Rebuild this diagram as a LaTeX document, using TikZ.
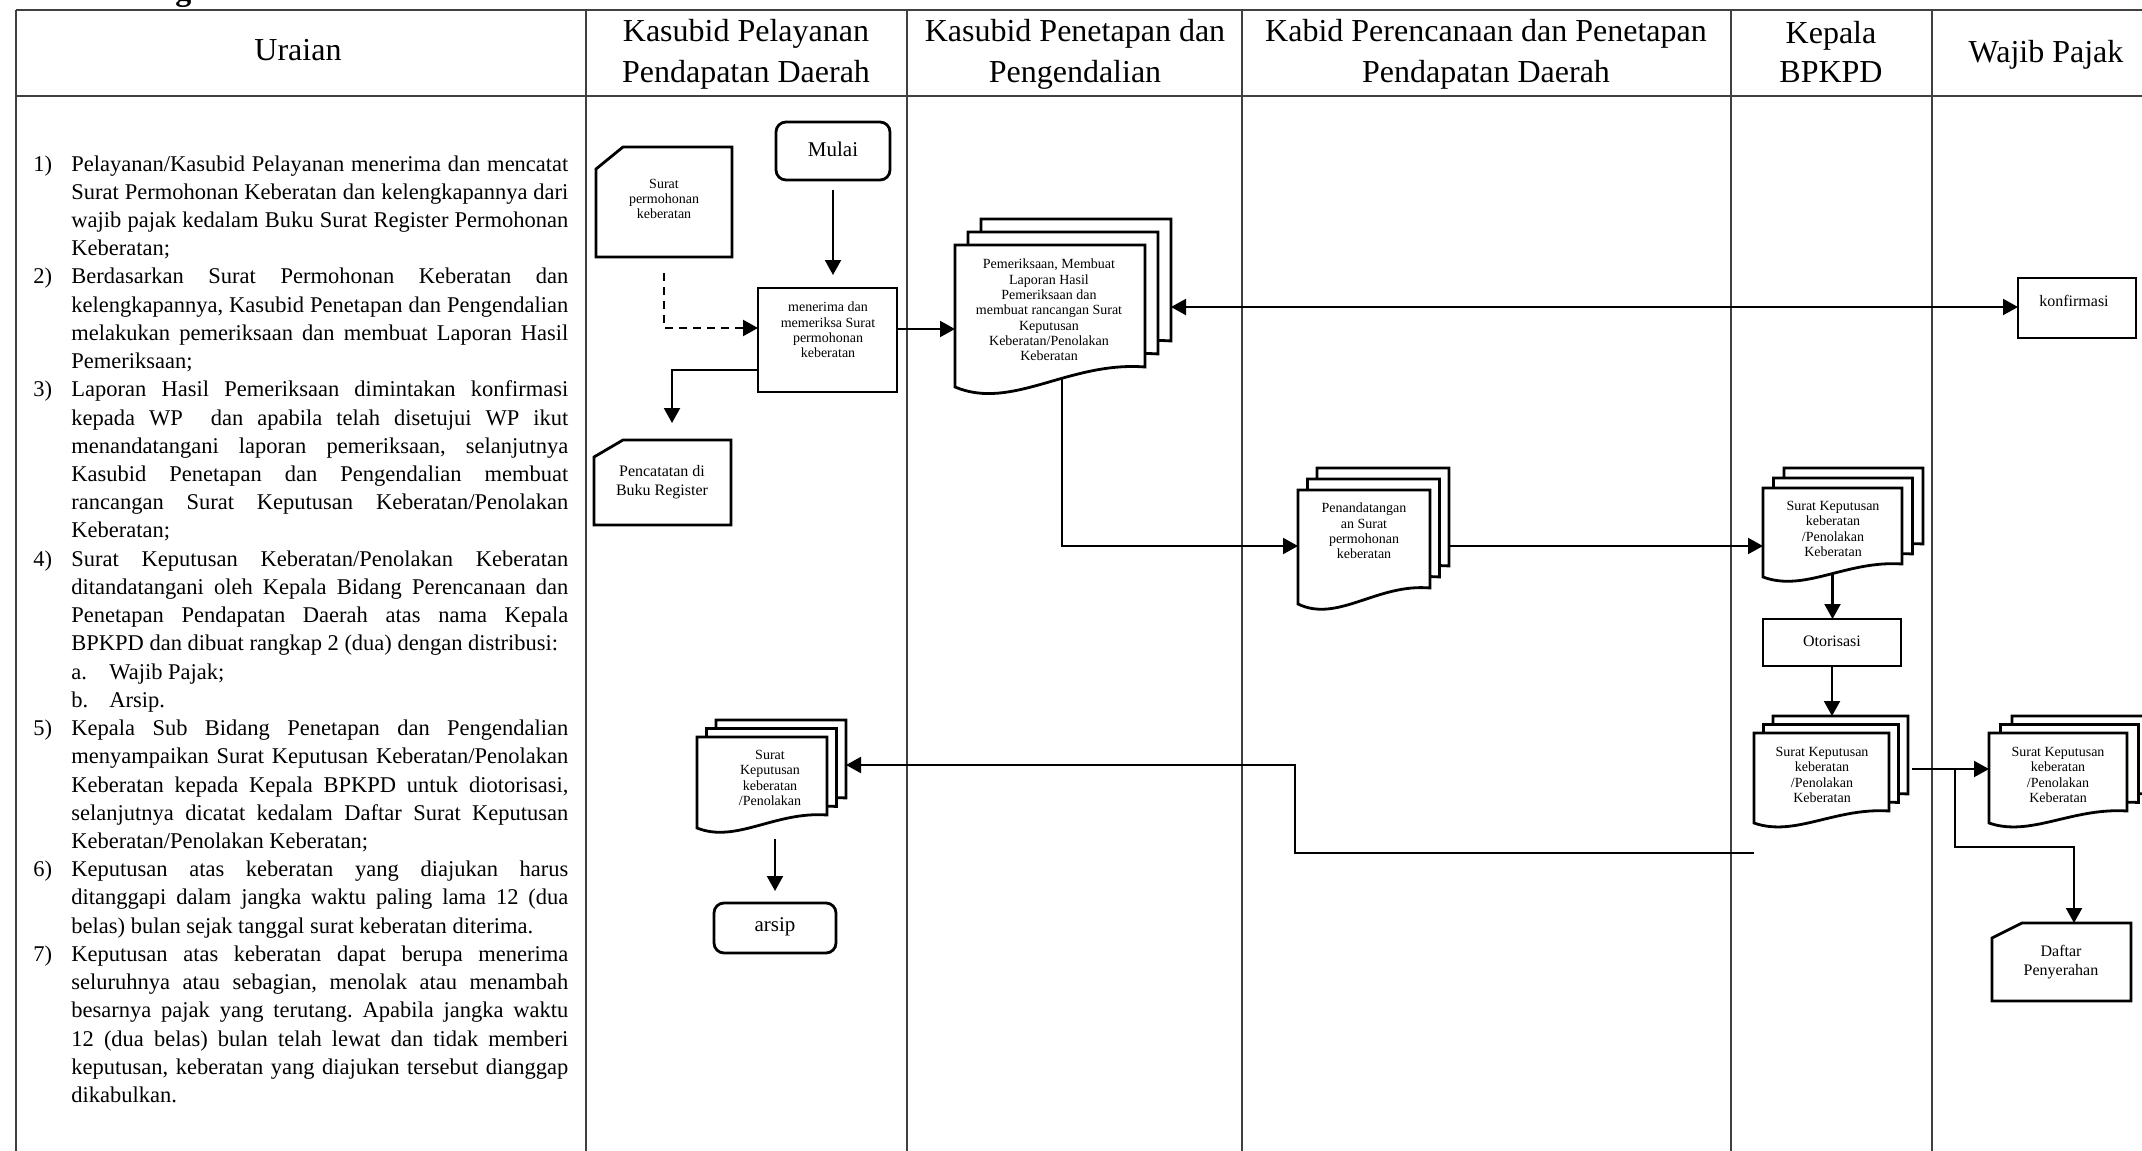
\documentclass[tikz,border=0pt]{standalone}
\usepackage{fontspec}
\setmainfont{Liberation Serif}
\usetikzlibrary{arrows.meta,fit,calc}

% named rectangular area between two corners (x1,y1) (x2,y2)
\newcommand\fcRegion[5]{%
  \path ({#2},{#3}) coordinate (#1-p) ({#4},{#5}) coordinate (#1-q);
  \node[area, fit=(#1-p)(#1-q)] (#1) {};}
% one document page with a wavy bottom edge: x1, top, x2, left height, rise
\newcommand\fcPage[5]{%
  \draw[shp] ({#1},{#2}) -- ({#3},{#2}) -- ({#3},{(#2)+(#4)-(#5)})
    .. controls ({(#1)+0.6*((#3)-(#1))},{(#2)+(#4)-1.3*(#5)})
       and ({(#1)+0.3*((#3)-(#1))},{(#2)+(#4)+1.2*(#5)}) .. ({#1},{(#2)+(#4)}) -- cycle;}
% stack of three pages: name, x1, top, x2, left height, rise, dx, dy
\newcommand\fcStack[8]{%
  \fcPage{(#2)+2*(#7)}{(#3)-2*(#8)}{(#4)+2*(#7)}{#5}{#6}
  \fcPage{(#2)+(#7)}{(#3)-(#8)}{(#4)+(#7)}{#5}{#6}
  \fcPage{#2}{#3}{#4}{#5}{#6}
  \fcRegion{#1}{#2}{#3}{#4}{(#3)+(#5)}
  \fcRegion{#1-b}{(#2)+2*(#7)}{(#3)-2*(#8)}{(#4)+2*(#7)}{(#3)-2*(#8)+(#5)}}
% card with the top left corner cut off: name, x1, y1, x2, y2, cut width, cut height
\newcommand\fcCard[7]{%
  \fcRegion{#1}{#2}{#3}{#4}{#5}
  \draw[shp] ({#2},{(#3)+(#7)}) -- ({(#2)+(#6)},{#3}) -- ({#4},{#3}) -- ({#4},{#5}) -- ({#2},{#5}) -- cycle;}
% lines of the description column
\newcommand\jline[2]{\node[body] (L#1) at (71,{171+28.23*(#1)}) {\makebox[248.5pt][s]{#2}};}
\newcommand\fline[2]{\node[body] (L#1) at (71,{171+28.23*(#1)}) {#2};}
\newcommand\numlab[2]{\node[body] (N#1) at (33,{171+28.23*(#1)}) {#2};}

\begin{document}
\frenchspacing
\begin{tikzpicture}[x=0.5pt,y=-0.5pt,
  lane/.style={draw=black!75, line width=0.6pt},
  shp/.style={draw=black, line width=1.4pt, fill=white, line join=miter},
  arr/.style={draw=black, line width=1.05pt, -{Triangle[length=7.5pt,width=8pt]}},
  biarr/.style={draw=black, line width=1.05pt, {Triangle[length=7.5pt,width=8pt]}-{Triangle[length=7.5pt,width=8pt]}},
  area/.style={inner sep=0pt, outer sep=0pt},
  tsmall/.style={font=\fontsize{7}{7.65}\selectfont, align=center, inner sep=0pt},
  tmid/.style={font=\fontsize{8}{9.5}\selectfont, align=center, inner sep=0pt},
  tbig/.style={font=\fontsize{10.5}{12}\selectfont, inner sep=0pt},
  head/.style={font=\fontsize{16}{21}\selectfont, inner sep=0pt, anchor=base},
  body/.style={font=\fontsize{11.25}{14.1}\selectfont, inner sep=0pt, anchor=base west},
]
\useasboundingbox (0,0) rectangle (2142,1151);
\fill[white] (0,0) rectangle (2142,1151);

% title fragment above the table
\node[font=\bfseries\fontsize{16}{16}\selectfont, anchor=base west, inner sep=0pt] (frag) at (175,1) {g};

% table grid
\draw[lane] (16,10) -- (2142,10);
\draw[lane] (16,96) -- (2142,96);
\foreach \x in {16,586,907,1242,1731,1932} \draw[lane] (\x,10) -- (\x,1151);

% column heads
\node[head] (h1) at (298,61) {Uraian};
\node[head] (h2a) at (746,41) {Kasubid Pelayanan};
\node[head] (h2b) at (746,83) {Pendapatan Daerah};
\node[head] (h3a) at (1075,41) {Kasubid Penetapan dan};
\node[head] (h3b) at (1075,83) {Pengendalian};
\node[head] (h4a) at (1486,41) {Kabid Perencanaan dan Penetapan};
\node[head] (h4b) at (1486,83) {Pendapatan Daerah};
\node[head] (h5a) at (1831,43) {Kepala};
\node[head] (h5b) at (1831,82) {BPKPD};
\node[head] (h6) at (2046,62) {Wajib Pajak};

% description
\numlab{0}{1)}
\jline{0}{Pelayanan/Kasubid Pelayanan menerima dan mencatat}
\jline{1}{Surat Permohonan Keberatan dan kelengkapannya dari}
\jline{2}{wajib pajak kedalam Buku Surat Register Permohonan}
\fline{3}{Keberatan;}
\numlab{4}{2)}
\jline{4}{Berdasarkan Surat Permohonan Keberatan dan}
\jline{5}{kelengkapannya, Kasubid Penetapan dan Pengendalian}
\jline{6}{melakukan pemeriksaan dan membuat Laporan Hasil}
\fline{7}{Pemeriksaan;}
\numlab{8}{3)}
\jline{8}{Laporan Hasil Pemeriksaan dimintakan konfirmasi}
\jline{9}{kepada WP\ \ dan apabila telah disetujui WP ikut}
\jline{10}{menandatangani laporan pemeriksaan, selanjutnya}
\jline{11}{Kasubid Penetapan dan Pengendalian membuat}
\jline{12}{rancangan Surat Keputusan Keberatan/Penolakan}
\fline{13}{Keberatan;}
\numlab{14}{4)}
\jline{14}{Surat Keputusan Keberatan/Penolakan Keberatan}
\jline{15}{ditandatangani oleh Kepala Bidang Perencanaan dan}
\jline{16}{Penetapan Pendapatan Daerah atas nama Kepala}
\fline{17}{BPKPD dan dibuat rangkap 2 (dua) dengan distribusi:}
\fline{18}{a.}
\node[body] (A18) at (109,{171+28.23*18}) {Wajib Pajak;};
\fline{19}{b.}
\node[body] (A19) at (109,{171+28.23*19}) {Arsip.};
\numlab{20}{5)}
\jline{20}{Kepala Sub Bidang Penetapan dan Pengendalian}
\jline{21}{menyampaikan Surat Keputusan Keberatan/Penolakan}
\jline{22}{Keberatan kepada Kepala BPKPD untuk diotorisasi,}
\jline{23}{selanjutnya dicatat kedalam Daftar Surat Keputusan}
\fline{24}{Keberatan/Penolakan Keberatan;}
\numlab{25}{6)}
\jline{25}{Keputusan atas keberatan yang diajukan harus}
\jline{26}{ditanggapi dalam jangka waktu paling lama 12 (dua}
\fline{27}{belas) bulan sejak tanggal surat keberatan diterima.}
\numlab{28}{7)}
\jline{28}{Keputusan atas keberatan dapat berupa menerima}
\jline{29}{seluruhnya atau sebagian, menolak atau menambah}
\jline{30}{besarnya pajak yang terutang. Apabila jangka waktu}
\jline{31}{12 (dua belas) bulan telah lewat dan tidak memberi}
\jline{32}{keputusan, keberatan yang diajukan tersebut dianggap}
\fline{33}{dikabulkan.}

% flow shapes
\fcCard{surat}{596}{147}{732}{257}{27}{22}
\node[tsmall] (surat-t) at (664,199) {Surat\\permohonan\\keberatan};

\fcRegion{mulai}{776}{122}{890}{180}
\draw[shp, rounded corners=5pt] (mulai.north west) rectangle (mulai.south east);
\node[tbig] (mulai-t) at (833,149) {Mulai};

\fcRegion{terima}{758}{288}{897}{392}
\draw[shp] (terima.north west) rectangle (terima.south east);
\node[tsmall] (terima-t) at (828,330) {menerima dan\\memeriksa Surat\\permohonan\\keberatan};

\fcCard{catat}{594}{440}{731}{525}{29}{17}
\node[tmid] (catat-t) at (662,482) {Pencatatan di\\Buku Register};

\fcStack{periksa}{955}{245}{1145}{142}{20}{13}{13}
\node[tsmall] (periksa-t) at (1049,310) {Pemeriksaan, Membuat\\Laporan Hasil\\Pemeriksaan dan\\membuat rancangan Surat\\Keputusan\\Keberatan/Penolakan\\Keberatan};

\fcRegion{konf}{2018}{278}{2136}{338}
\draw[shp] (konf.north west) rectangle (konf.south east);
\node[tmid] (konf-t) at (2074,301) {konfirmasi};

\fcStack{ttd}{1298}{490}{1430}{114}{16}{9.5}{11}
\node[tsmall] (ttd-t) at (1364,531) {Penandatangan\\an Surat\\permohonan\\keberatan};

\fcStack{skA}{1763}{488}{1902}{89}{13}{10.5}{10}
\node[tsmall] (skA-t) at (1833,529) {Surat Keputusan\\keberatan\\/Penolakan\\Keberatan};

\fcRegion{otor}{1763}{619}{1901}{666}
\draw[shp] (otor.north west) rectangle (otor.south east);
\node[tmid] (otor-t) at (1832,641) {Otorisasi};

\fcStack{skB}{1754}{733}{1889}{90}{12}{9.5}{8.5}
\node[tsmall] (skB-t) at (1822,775) {Surat Keputusan\\keberatan\\/Penolakan\\Keberatan};

\fcStack{skC}{1989}{733}{2127}{90}{12}{11.5}{8.5}
\node[tsmall] (skC-t) at (2058,775) {Surat Keputusan\\keberatan\\/Penolakan\\Keberatan};

\fcCard{daftar}{1992}{923}{2131}{1001}{30}{15}
\node[tmid] (daftar-t) at (2061,962) {Daftar\\Penyerahan};

\fcStack{skD}{697}{737}{827}{91}{13}{9.5}{8.5}
\node[tsmall] (skD-t) at (770,778) {Surat\\Keputusan\\keberatan\\/Penolakan};

\fcRegion{arsip}{714}{903}{836}{953}
\draw[shp, rounded corners=5pt] (arsip.north west) rectangle (arsip.south east);
\node[tbig] (arsip-t) at (775,927) {arsip};

% connector levels and bends
\coordinate (lv307) at (0,307);
\coordinate (lv328) at (0,328);
\coordinate (lv329) at (0,329);
\coordinate (lv370) at (0,370);
\coordinate (lv546) at (0,546);
\coordinate (lv769) at (0,769);
\coordinate (lv839) at (0,839);
\coordinate (lv853) at (0,853);
\coordinate (catIn) at (672,0);
\coordinate (periksa-out) at (1062,378);
\coordinate (split) at (1955,769);
\coordinate (turn) at (2074,847);
\coordinate (back) at (1295,765);

% connectors
\draw[arr, shorten <=5pt, shorten >=6.5pt] (mulai.south) -- (mulai.south |- terima.north);
\draw[arr, dash pattern=on 4pt off 3pt, shorten <=8pt] (surat.south) |- (terima.west |- lv328);
\draw[arr] (terima.east |- lv329) -- (periksa.west |- lv329);
\draw[arr, shorten >=8.5pt] (terima.west |- lv370) -| (catIn |- catat.north);
\draw[biarr] (periksa-b.east |- lv307) -- (konf.west |- lv307);
\draw[arr] (periksa-out) |- (ttd.west |- lv546);
\draw[arr] (ttd-b.east |- lv546) -- (skA.west |- lv546);
\draw[arr] ([yshift=1.75pt]skA.south) -- (skA.south |- otor.north);
\draw[arr] (otor.south) -- (otor.south |- skB-b.north);
\draw[arr, shorten <=2pt] (skB-b.east |- lv769) -- (skC.west |- lv769);
\draw[arr] (split) |- (turn) -- (turn |- daftar.north);
\draw[arr] (skB.west |- lv853) -| (back) -- (skD-b.east |- back);
\draw[arr, shorten >=6pt] (arsip.north |- lv839) -- (arsip.north);

\end{tikzpicture}
\end{document}
